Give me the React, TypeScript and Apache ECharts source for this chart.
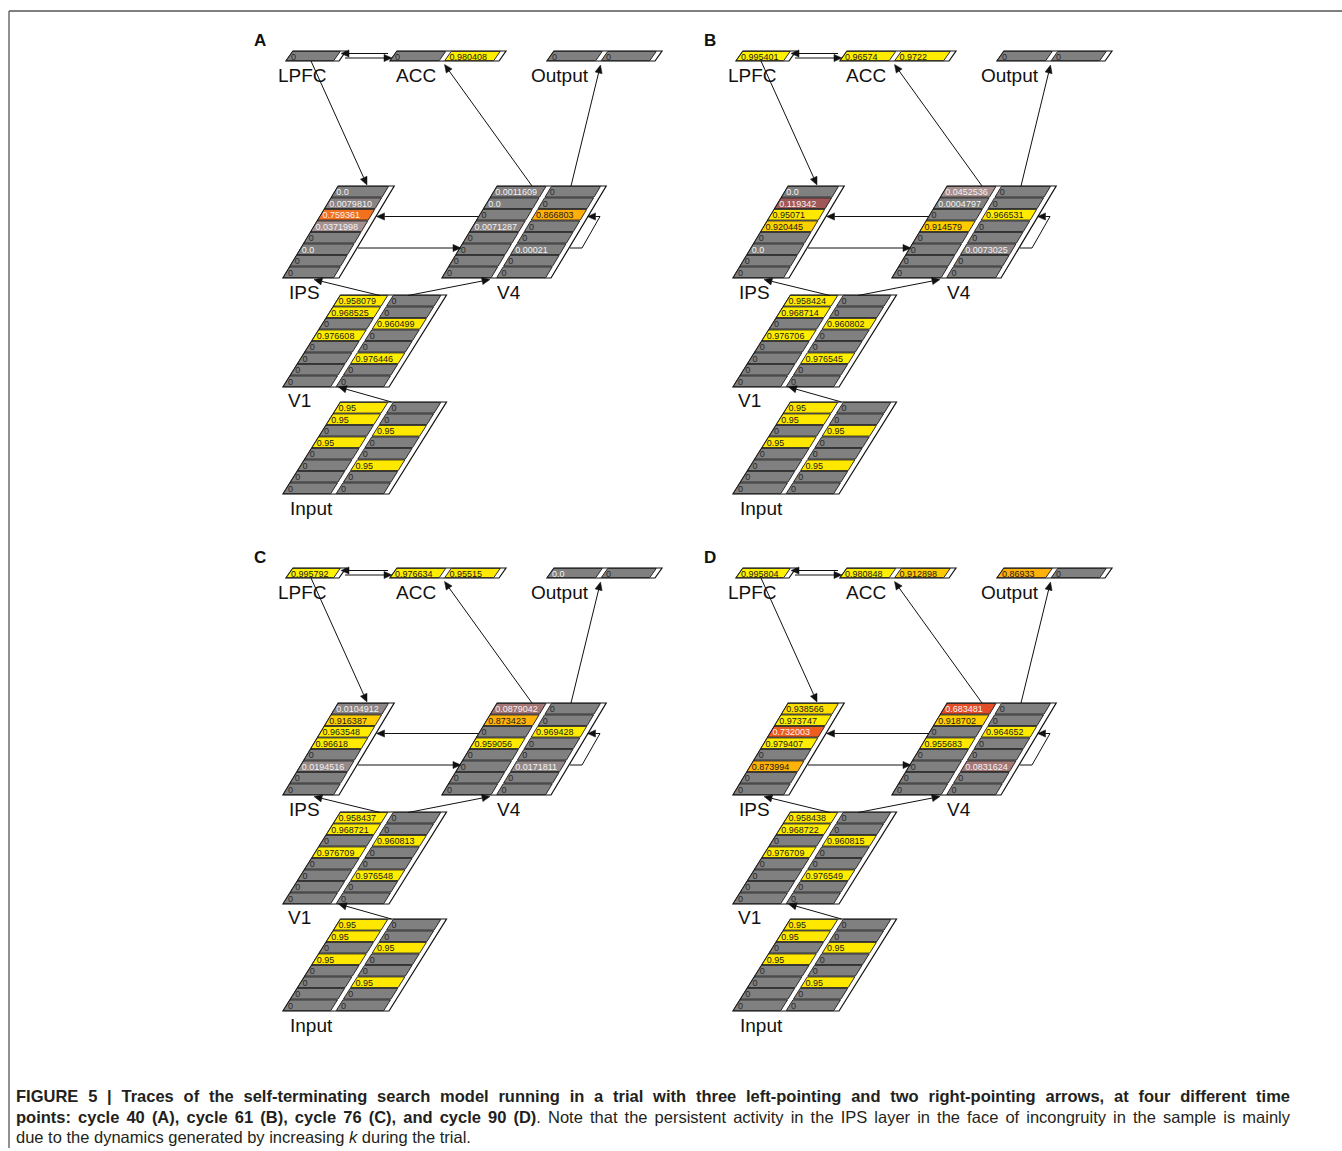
import React, { useEffect, useRef } from "react";
import * as echarts from "echarts";

// ---------- DATA ----------
const PANEL_LETTERS = ["A", "B", "C", "D"];

const LPFC_VALUES = [["0"], ["0.995401"], ["0.995792"], ["0.995804"]];
const ACC_VALUES = [
  ["0", "0.980408"],
  ["0.96574", "0.9722"],
  ["0.976634", "0.95515"],
  ["0.980848", "0.912898"],
];
const OUTPUT_VALUES = [
  ["0", "0"],
  ["0", "0"],
  ["0.0", "0"],
  ["0.86933", "0"],
];
const IPS_VALUES = [
  ["0.0", "0.0079810", "0.759361", "0.0371998", "0", "0.0", "0", "0"],
  ["0.0", "0.119342", "0.95071", "0.920445", "0", "0.0", "0", "0"],
  ["0.0104912", "0.916387", "0.963548", "0.96618", "0", "0.0194516", "0", "0"],
  ["0.938566", "0.973747", "0.732003", "0.979407", "0", "0.873994", "0", "0"],
];
const V4_LEFT = [
  ["0.0011609", "0.0", "0", "0.0071287", "0", "0", "0", "0"],
  ["0.0452536", "0.0004797", "0", "0.914579", "0", "0", "0", "0"],
  ["0.0879042", "0.873423", "0", "0.959056", "0", "0", "0", "0"],
  ["0.683481", "0.918702", "0", "0.955683", "0", "0", "0", "0"],
];
const V4_RIGHT = [
  ["0", "0", "0.866803", "0", "0", "0.00021", "0", "0"],
  ["0", "0", "0.966531", "0", "0", "0.0073025", "0", "0"],
  ["0", "0", "0.969428", "0", "0", "0.0171811", "0", "0"],
  ["0", "0", "0.964652", "0", "0", "0.0831624", "0", "0"],
];
const V1_LEFT = [
  ["0.958079", "0.968525", "0", "0.976608", "0", "0", "0", "0"],
  ["0.958424", "0.968714", "0", "0.976706", "0", "0", "0", "0"],
  ["0.958437", "0.968721", "0", "0.976709", "0", "0", "0", "0"],
  ["0.958438", "0.968722", "0", "0.976709", "0", "0", "0", "0"],
];
const V1_RIGHT = [
  ["0", "0", "0.960499", "0", "0", "0.976446", "0", "0"],
  ["0", "0", "0.960802", "0", "0", "0.976545", "0", "0"],
  ["0", "0", "0.960813", "0", "0", "0.976548", "0", "0"],
  ["0", "0", "0.960815", "0", "0", "0.976549", "0", "0"],
];
const INPUT_LEFT = ["0.95", "0.95", "0", "0.95", "0", "0", "0", "0"];
const INPUT_RIGHT = ["0", "0", "0.95", "0", "0", "0.95", "0", "0"];

type Seg = { t: string; s: "b" | "n" | "i" };
const CAPTION_LINES: { segs: Seg[]; justify: boolean }[] = [
  {
    segs: [
      {
        t: "FIGURE 5 | Traces of the self-terminating search model running in a trial with three left-pointing and two right-pointing arrows, at four different time",
        s: "b",
      },
    ],
    justify: true,
  },
  {
    segs: [
      { t: "points: cycle 40 (A), cycle 61 (B), cycle 76 (C), and cycle 90 (D)", s: "b" },
      { t: ". Note that the persistent activity in the IPS layer in the face of incongruity in the sample is mainly", s: "n" },
    ],
    justify: true,
  },
  {
    segs: [
      { t: "due to the dynamics generated by increasing ", s: "n" },
      { t: "k", s: "i" },
      { t: " during the trial.", s: "n" },
    ],
    justify: false,
  },
];

// ---------- LAYOUT ----------
const FAMILY = "'Liberation Sans'";
const FONT = "'Liberation Sans', Arial, Helvetica, sans-serif";
const CAP_SIZE = 16.5;
const CAP_X = 16;
const CAP_W = 1274;
const CAP_Y = [1096, 1117, 1137];

const PANEL_OFFSETS = [
  [0, 0],
  [450, 0],
  [0, 517],
  [450, 517],
];

type LayerDef = {
  key: string;
  x0: number;
  yTop: number;
  yBottom: number;
  groups: number;
  rows: number;
  gw: number;
  shear: number;
  lx: number;
  ly: number;
};

const LAYERS: LayerDef[] = [
  { key: "LPFC", x0: 286, yTop: 51, yBottom: 61, groups: 1, rows: 1, gw: 53, shear: 0.7, lx: 278, ly: 75 },
  { key: "ACC", x0: 390, yTop: 51, yBottom: 61, groups: 2, rows: 1, gw: 54.5, shear: 0.7, lx: 396, ly: 75 },
  { key: "Output", x0: 547, yTop: 51, yBottom: 61, groups: 2, rows: 1, gw: 54, shear: 0.7, lx: 531, ly: 75 },
  { key: "IPS", x0: 283, yTop: 186, yBottom: 278, groups: 1, rows: 8, gw: 56, shear: 0.6, lx: 289, ly: 292 },
  { key: "V4", x0: 442, yTop: 186, yBottom: 278, groups: 2, rows: 8, gw: 54.5, shear: 0.6, lx: 497, ly: 292 },
  { key: "V1", x0: 283, yTop: 295, yBottom: 387, groups: 2, rows: 8, gw: 53, shear: 0.625, lx: 288, ly: 400 },
  { key: "Input", x0: 283, yTop: 402, yBottom: 494, groups: 2, rows: 8, gw: 53, shear: 0.625, lx: 290, ly: 508 },
];

// arrows: polyline points, head at the last point
const ARROWS: number[][][] = [
  [[388, 53.5], [341, 53.5]],
  [[345, 58], [392, 58]],
  [[311, 61], [367, 185]],
  [[532, 186], [444.5, 64.5]],
  [[571, 186], [600.5, 65]],
  [[479, 216.5], [376.5, 216.5]],
  [[358, 248], [461, 248]],
  [[570, 248], [582, 248], [600, 216.5], [587.5, 216.5]],
  [[380, 295.5], [314, 279.5]],
  [[408, 295.5], [490, 279.5]],
  [[391.5, 402], [338.5, 387]],
];

const COLOR_STOPS: [number, number[]][] = [
  [0, [128, 128, 128]],
  [0.005, [136, 130, 130]],
  [0.04, [168, 146, 146]],
  [0.09, [164, 116, 116]],
  [0.12, [160, 86, 86]],
  [0.4, [190, 50, 48]],
  [0.68, [226, 76, 40]],
  [0.73, [238, 92, 32]],
  [0.76, [242, 112, 30]],
  [0.87, [255, 176, 10]],
  [0.91, [255, 200, 0]],
  [0.95, [255, 232, 0]],
  [1.0, [255, 242, 0]],
];

function cellColor(s: string): string {
  const v = parseFloat(s);
  if (!(v > 0)) return "rgb(128,128,128)";
  for (let i = 1; i < COLOR_STOPS.length; i++) {
    const [v1, c1] = COLOR_STOPS[i];
    const [v0, c0] = COLOR_STOPS[i - 1];
    if (v <= v1) {
      const t = (v - v0) / (v1 - v0);
      const c = c0.map((a, k) => Math.round(a + (c1[k] - a) * t));
      return `rgb(${c[0]},${c[1]},${c[2]})`;
    }
  }
  return "rgb(255,242,0)";
}

function textColor(s: string): string {
  const v = parseFloat(s);
  if (s === "0") return "#2a2a2a";
  if (v >= 0.8) return "#1a1a1a";
  return "#f2f2f2";
}

function layerValues(key: string, p: number): string[][] {
  switch (key) {
    case "LPFC":
      return [LPFC_VALUES[p]];
    case "ACC":
      return ACC_VALUES[p].map((v) => [v]);
    case "Output":
      return OUTPUT_VALUES[p].map((v) => [v]);
    case "IPS":
      return [IPS_VALUES[p]];
    case "V4":
      return [V4_LEFT[p], V4_RIGHT[p]];
    case "V1":
      return [V1_LEFT[p], V1_RIGHT[p]];
    default:
      return [INPUT_LEFT, INPUT_RIGHT];
  }
}

function cssFont(s: string): string {
  const w = s === "b" ? "bold " : "";
  const st = s === "i" ? "italic " : "";
  return `${st}${w}${CAP_SIZE}px ${FAMILY}`;
}

function captionElements(): any[] {
  const els: any[] = [];
  const ctx = document.createElement("canvas").getContext("2d") as CanvasRenderingContext2D;
  const measure = (t: string, s: string) => {
    ctx.font = cssFont(s);
    return ctx.measureText(t).width;
  };
  CAPTION_LINES.forEach((line, li) => {
    // tokenize into words (each word = list of parts)
    const words: { t: string; s: string }[][] = [];
    let cur: { t: string; s: string }[] = [];
    line.segs.forEach((seg) => {
      const pieces = seg.t.split(" ");
      pieces.forEach((pc, k) => {
        if (k > 0) {
          if (cur.length) words.push(cur);
          cur = [];
        }
        if (pc.length) cur.push({ t: pc, s: seg.s });
      });
    });
    if (cur.length) words.push(cur);
    const widths = words.map((w) => w.reduce((a, p) => a + measure(p.t, p.s), 0));
    const total = widths.reduce((a, b) => a + b, 0);
    const gap = line.justify && words.length > 1 ? (CAP_W - total) / (words.length - 1) : measure(" ", "n");
    let x = CAP_X;
    words.forEach((w, wi) => {
      let px = x;
      w.forEach((p) => {
        els.push({
          type: "text",
          silent: true,
          x: px,
          y: CAP_Y[li],
          style: {
            text: p.t,
            fontFamily: FONT,
            fontSize: CAP_SIZE,
            fontWeight: p.s === "b" ? "bold" : "normal",
            fontStyle: p.s === "i" ? "italic" : "normal",
            fill: "#231f20",
            verticalAlign: "middle",
            align: "left",
          },
        });
        px += measure(p.t, p.s);
      });
      x += widths[wi] + gap;
    });
  });
  return els;
}

function buildGraphics(): any[] {
  const els: any[] = [];
  // frame border
  els.push({ type: "line", silent: true, shape: { x1: 9, y1: 11, x2: 1342, y2: 11 }, style: { stroke: "#555", lineWidth: 1.3 } });
  els.push({ type: "line", silent: true, shape: { x1: 9, y1: 11, x2: 9, y2: 1148 }, style: { stroke: "#555", lineWidth: 1.3 } });

  PANEL_OFFSETS.forEach(([ox, oy], p) => {
    els.push({
      type: "text",
      silent: true,
      x: 254 + ox,
      y: 40 + oy,
      style: { text: PANEL_LETTERS[p], fontFamily: FONT, fontWeight: "bold", fontSize: 17, fill: "#111", verticalAlign: "middle", align: "left" },
    });
    LAYERS.forEach((L) => {
      const rh = (L.yBottom - L.yTop) / L.rows;
      const X = (u: number, y: number) => ox + L.x0 + u + L.shear * (L.yBottom - y);
      const Y = (y: number) => oy + y;
      const W = L.groups * L.gw;
      els.push({
        type: "polygon",
        silent: true,
        shape: {
          points: [
            [X(0, L.yTop), Y(L.yTop)],
            [X(W, L.yTop), Y(L.yTop)],
            [X(W, L.yBottom), Y(L.yBottom)],
            [X(0, L.yBottom), Y(L.yBottom)],
          ],
        },
        style: { fill: "#fff", stroke: "#111", lineWidth: 1.2 },
      });
      const vals = layerValues(L.key, p);
      vals.forEach((col, g) => {
        col.forEach((val, r) => {
          const yt = L.yTop + r * rh + 0.4;
          const yb = L.yTop + (r + 1) * rh - 0.4;
          const u1 = g * L.gw;
          const u2 = g * L.gw + L.gw - 5.5;
          els.push({
            type: "polygon",
            silent: true,
            shape: {
              points: [
                [X(u1, yt), Y(yt)],
                [X(u2, yt), Y(yt)],
                [X(u2, yb), Y(yb)],
                [X(u1, yb), Y(yb)],
              ],
            },
            style: { fill: cellColor(val), stroke: "#1a1a1a", lineWidth: 0.9 },
          });
          const ym = (yt + yb) / 2;
          els.push({
            type: "text",
            silent: true,
            x: X(u1, ym) + 1.5,
            y: Y(ym) + 0.5,
            style: { text: val, fontFamily: FONT, fontSize: 9, fill: textColor(val), verticalAlign: "middle", align: "left" },
          });
        });
      });
      els.push({
        type: "text",
        silent: true,
        x: ox + L.lx,
        y: oy + L.ly,
        style: { text: L.key, fontFamily: FONT, fontSize: 19, fill: "#111", verticalAlign: "middle", align: "left" },
      });
    });
    ARROWS.forEach((pts) => {
      const P = pts.map(([x, y]) => [x + ox, y + oy]);
      const n = P.length;
      const [tx, ty] = P[n - 1];
      const [sx, sy] = P[n - 2];
      const dx = tx - sx;
      const dy = ty - sy;
      const len = Math.sqrt(dx * dx + dy * dy);
      const ux = dx / len;
      const uy = dy / len;
      const hl = 8;
      const hw = 3.6;
      const bx = tx - ux * hl;
      const by = ty - uy * hl;
      const linePts = P.slice(0, n - 1).concat([[bx, by]]);
      els.push({
        type: "polyline",
        silent: true,
        shape: { points: linePts },
        style: { stroke: "#111", lineWidth: 1, fill: null },
      });
      els.push({
        type: "polygon",
        silent: true,
        shape: {
          points: [
            [tx, ty],
            [bx - uy * hw, by + ux * hw],
            [bx + uy * hw, by - ux * hw],
          ],
        },
        style: { fill: "#111", stroke: "#111", lineWidth: 0.5 },
      });
    });
  });

  return els.concat(captionElements());
}

export default function App() {
  const ref = useRef<HTMLDivElement>(null);
  useEffect(() => {
    if (!ref.current) return;
    const chart = echarts.init(ref.current, null, { renderer: "svg" });
    chart.setOption({
      animation: false,
      backgroundColor: "#ffffff",
      graphic: { elements: buildGraphics() },
    });
    return () => chart.dispose();
  }, []);
  return (
    <div
      ref={ref}
      style={{ position: "absolute", left: 0, top: 0, width: 1342, height: 1151, background: "#fff" }}
    />
  );
}
